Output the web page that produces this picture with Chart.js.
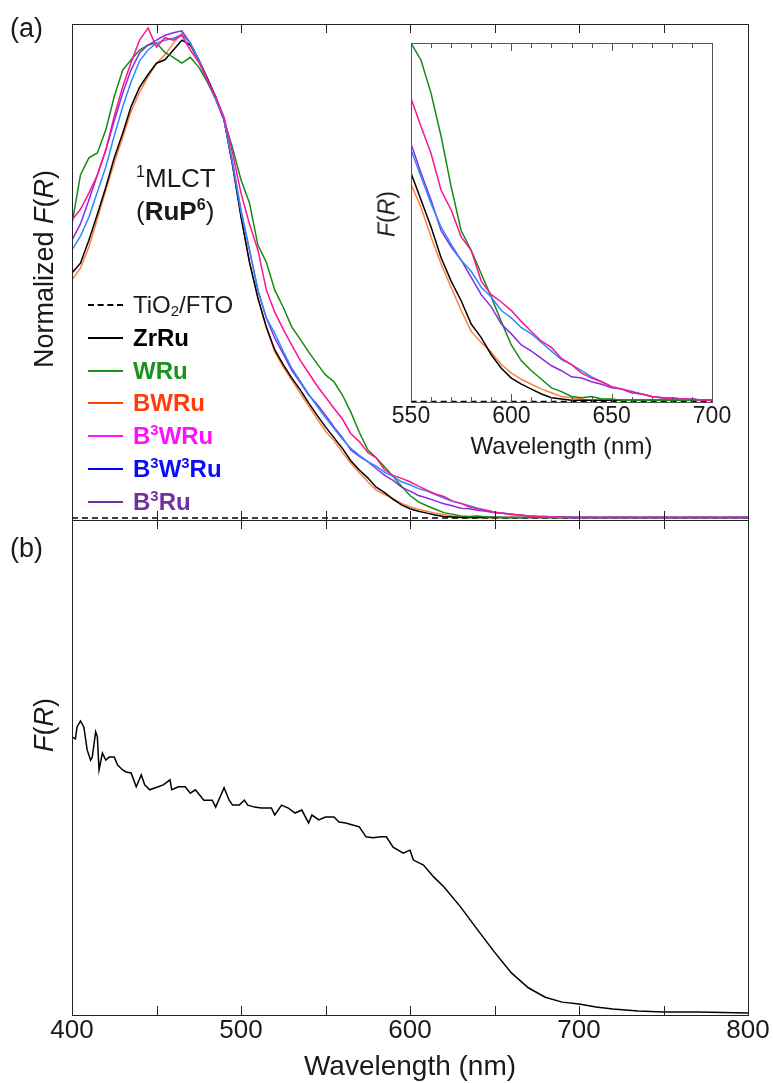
<!DOCTYPE html>
<html>
<head>
<meta charset="utf-8">
<title>Diffuse reflectance F(R) spectra</title>
<script src="https://cdn.jsdelivr.net/npm/chart.js@4.4.1/dist/chart.umd.min.js"></script>
<style>
  html, body { margin: 0; padding: 0; background: #fff; }
  #figure {
    position: relative; width: 773px; height: 1083px; overflow: hidden;
    font-family: "Liberation Sans", Arial, sans-serif; color: #1a1a1a;
  }
  canvas { position: absolute; }
  .txt { position: absolute; white-space: nowrap; line-height: 1; }
  .rot { transform: translate(-50%, -50%) rotate(-90deg); }
  sup, sub { font-size: 0.62em; line-height: 0; }
  sup { vertical-align: 0.62em; }
  sub { vertical-align: -0.22em; }
  .leg-row { position: absolute; left: 88px; height: 24px; white-space: nowrap; font-size: 24px; line-height: 24px; }
  .leg-line { position: absolute; left: 0; top: 11px; width: 35px; height: 0; border-top: 2px solid #000; }
  .leg-text { position: absolute; left: 45px; top: 0; }
</style>
</head>
<body>
<div id="figure">
  <canvas id="panelA" width="773" height="540" style="left:0;top:0"></canvas>
  <canvas id="panelB" width="773" height="583" style="left:0;top:500px"></canvas>
  <canvas id="inset" width="360" height="430" style="left:380px;top:30px"></canvas>

  <div class="txt" style="left:10px;top:15px;font-size:27px">(a)</div>
  <div class="txt" style="left:10px;top:535px;font-size:27px">(b)</div>
  <div class="txt" style="left:136px;top:165px;font-size:26px"><sup>1</sup>MLCT</div>
  <div class="txt" style="left:136px;top:198px;font-size:26px">(<b>RuP<sup>6</sup></b>)</div>
  <div class="txt rot" style="left:44px;top:269px;font-size:27px">Normalized <i>F</i>(<i>R</i>)</div>
  <div class="txt rot" style="left:44px;top:725px;font-size:27px"><i>F</i>(<i>R</i>)</div>
  <div class="txt rot" style="left:387px;top:214px;font-size:23px"><i>F</i>(<i>R</i>)</div>
  <div id="legend"></div>
</div>

<script>
/* ---- Data ---- */

// Panel (a): normalized F(R), shared wavelength grid (nm)
const wavelengths = [
  400, 405, 410, 415, 420, 425, 430, 435, 440, 445,
  450, 455, 460, 465, 470, 475, 480, 485, 490, 495,
  500, 505, 510, 515, 520, 525, 530, 535, 540, 545,
  550, 555, 560, 565, 570, 575, 580, 585, 590, 595,
  600, 605, 610, 615, 620, 625, 630, 635, 640, 645,
  650, 655, 660, 665, 670, 675, 680, 685, 690, 695,
  700, 750, 800,
];

const zrRu = [
  0.500, 0.520, 0.567, 0.620, 0.675, 0.735, 0.785, 0.840, 0.879, 0.905,
  0.928, 0.935, 0.955, 0.975, 0.965, 0.935, 0.898, 0.860, 0.812, 0.720,
  0.614, 0.522, 0.449, 0.390, 0.343, 0.313, 0.286, 0.262, 0.235, 0.210,
  0.186, 0.164, 0.142, 0.117, 0.098, 0.082, 0.063, 0.052, 0.038, 0.027,
  0.019, 0.014, 0.010, 0.006, 0.003, 0.002, 0.001, 0.001, 0.001, 0.001,
  0.001, 0.001, 0.001, 0.001, 0.001, 0.001, 0.001, 0.001, 0.001, 0.001,
  0.001, 0.001, 0.001,
];

const wRu = [
  0.600, 0.700, 0.735, 0.745, 0.792, 0.860, 0.914, 0.935, 0.955, 0.965,
  0.969, 0.950, 0.940, 0.928, 0.940, 0.920, 0.890, 0.855, 0.812, 0.755,
  0.690, 0.643, 0.557, 0.522, 0.465, 0.430, 0.390, 0.365, 0.339, 0.315,
  0.292, 0.278, 0.251, 0.216, 0.175, 0.139, 0.123, 0.104, 0.085, 0.065,
  0.046, 0.033, 0.025, 0.018, 0.011, 0.008, 0.004, 0.003, 0.004, 0.002,
  0.002, 0.001, 0.001, 0.001, 0.001, 0.001, 0.001, 0.001, 0.001, 0.001,
  0.001, 0.001, 0.001,
];

const bwRu = [
  0.486, 0.510, 0.553, 0.610, 0.669, 0.725, 0.777, 0.830, 0.869, 0.900,
  0.928, 0.945, 0.969, 0.990, 0.969, 0.935, 0.894, 0.855, 0.812, 0.720,
  0.618, 0.522, 0.449, 0.388, 0.339, 0.308, 0.282, 0.255, 0.229, 0.203,
  0.177, 0.158, 0.134, 0.112, 0.093, 0.074, 0.057, 0.048, 0.040, 0.030,
  0.023, 0.018, 0.014, 0.010, 0.007, 0.004, 0.003, 0.002, 0.001, 0.001,
  0.001, 0.001, 0.001, 0.001, 0.001, 0.001, 0.001, 0.001, 0.001, 0.001,
  0.001, 0.001, 0.001,
];

const b3wRu = [
  0.608, 0.630, 0.663, 0.700, 0.751, 0.820, 0.880, 0.930, 0.975, 1.000,
  0.961, 0.980, 0.975, 0.985, 0.955, 0.930, 0.894, 0.860, 0.818, 0.745,
  0.663, 0.600, 0.547, 0.465, 0.420, 0.385, 0.353, 0.322, 0.296, 0.270,
  0.247, 0.224, 0.202, 0.172, 0.156, 0.134, 0.123, 0.098, 0.087, 0.081,
  0.074, 0.065, 0.057, 0.049, 0.044, 0.035, 0.030, 0.023, 0.019, 0.016,
  0.012, 0.010, 0.007, 0.006, 0.004, 0.003, 0.002, 0.002, 0.002, 0.001,
  0.001, 0.001, 0.001,
];

const b3w3Ru = [
  0.547, 0.575, 0.614, 0.665, 0.716, 0.780, 0.839, 0.890, 0.933, 0.955,
  0.969, 0.975, 0.979, 0.986, 0.969, 0.935, 0.894, 0.855, 0.812, 0.725,
  0.624, 0.547, 0.465, 0.408, 0.377, 0.340, 0.306, 0.280, 0.253, 0.228,
  0.205, 0.183, 0.161, 0.142, 0.128, 0.115, 0.106, 0.093, 0.085, 0.074,
  0.068, 0.060, 0.055, 0.048, 0.041, 0.034, 0.030, 0.025, 0.020, 0.016,
  0.012, 0.010, 0.007, 0.006, 0.004, 0.003, 0.003, 0.002, 0.002, 0.001,
  0.001, 0.001, 0.001,
];

const b3Ru = [
  0.567, 0.600, 0.649, 0.700, 0.751, 0.810, 0.867, 0.915, 0.949, 0.965,
  0.975, 0.985, 0.990, 0.994, 0.969, 0.935, 0.894, 0.855, 0.812, 0.725,
  0.628, 0.547, 0.465, 0.408, 0.367, 0.335, 0.302, 0.277, 0.251, 0.232,
  0.210, 0.186, 0.164, 0.139, 0.126, 0.115, 0.101, 0.087, 0.077, 0.063,
  0.055, 0.046, 0.041, 0.035, 0.029, 0.025, 0.020, 0.019, 0.016, 0.014,
  0.011, 0.010, 0.008, 0.006, 0.004, 0.003, 0.003, 0.002, 0.002, 0.001,
  0.001, 0.001, 0.001,
];

// Bare TiO2/FTO film (dashed baseline)
const tio2Wavelengths = [400, 500, 600, 700, 800];
const tio2Values = [0.0, 0.0, 0.0, 0.0, 0.0];

// Panel (b): F(R), single spectrum
const bWavelengths = [
  400, 402, 403, 405, 407, 409, 411, 412, 414, 415,
  416, 418, 420, 422, 425, 427, 430, 432, 435, 438,
  441, 443, 446, 451, 454, 458, 459, 463, 467, 470,
  473, 478, 483, 485, 490, 493, 495, 499, 502, 504,
  508, 512, 518, 520, 524, 528, 532, 536, 540, 542,
  546, 550, 555, 558, 562, 566, 570, 574, 578, 583,
  586, 590, 596, 600, 602, 608, 614, 620, 630, 640,
  650, 660, 670, 680, 690, 700, 710, 720, 735, 750,
  770, 800,
];
const bValues = [
  0.562, 0.558, 0.582, 0.594, 0.582, 0.535, 0.515, 0.521, 0.572, 0.562,
  0.495, 0.529, 0.515, 0.521, 0.521, 0.505, 0.495, 0.491, 0.489, 0.461,
  0.485, 0.465, 0.455, 0.461, 0.465, 0.475, 0.455, 0.461, 0.461, 0.448,
  0.455, 0.434, 0.434, 0.420, 0.459, 0.434, 0.424, 0.424, 0.434, 0.424,
  0.420, 0.418, 0.418, 0.404, 0.424, 0.418, 0.408, 0.414, 0.388, 0.404,
  0.394, 0.400, 0.400, 0.390, 0.388, 0.384, 0.380, 0.360, 0.358, 0.360,
  0.360, 0.339, 0.327, 0.333, 0.313, 0.303, 0.279, 0.259, 0.218, 0.172,
  0.127, 0.085, 0.055, 0.036, 0.026, 0.022, 0.016, 0.012, 0.008, 0.006,
  0.006, 0.004,
];

// Legend entries (top to bottom)
const legendLabels = [
  "TiO<sub>2</sub>/FTO", "ZrRu", "WRu", "BWRu",
  "B<sup>3</sup>WRu", "B<sup>3</sup>W<sup>3</sup>Ru", "B<sup>3</sup>Ru",
];
const legendTextColors = ["#1a1a1a", "#000", "#1a931a", "#ff3c0a", "#ff10ff", "#0a0aff", "#7030a0"];
const legendLineColors = ["#000", "#000", "#1a931a", "#ff4500", "#ff10ff", "#0000ff", "#7030a0"];

/* ---- Helpers ---- */

const FONT = "'Liberation Sans', Arial, sans-serif";
Chart.defaults.font.family = FONT;

const toPoints = (xs, ys) => xs.map((x, i) => ({ x, y: ys[i] }));

const lineStyle = (color, order) => ({
  borderColor: color,
  backgroundColor: color,
  borderWidth: 1.5,
  pointRadius: 0,
  fill: false,
  tension: 0,
  order,
});

// dataset order: lower "order" is drawn on top
const makePanelASets = () => [
  { label: "TiO2/FTO", data: toPoints(tio2Wavelengths, tio2Values), ...lineStyle("#000", 7), borderDash: [6, 4] },
  { label: "BWRu", data: toPoints(wavelengths, bwRu), ...lineStyle("#ff8040", 6) },
  { label: "ZrRu", data: toPoints(wavelengths, zrRu), ...lineStyle("#000000", 5) },
  { label: "WRu", data: toPoints(wavelengths, wRu), ...lineStyle("#158a15", 4) },
  { label: "B3Ru", data: toPoints(wavelengths, b3Ru), ...lineStyle("#8a2be2", 3) },
  { label: "B3W3Ru", data: toPoints(wavelengths, b3w3Ru), ...lineStyle("#2a8cff", 2) },
  { label: "B3WRu", data: toPoints(wavelengths, b3wRu), ...lineStyle("#ff1490", 1) },
];

/** Frame box plus inward tick marks on top and bottom edges. */
const frameTicks = {
  id: "frameTicks",
  beforeDatasetsDraw(chart, args, opts) {
    if (!opts.fill) return;
    const { ctx, chartArea: a } = chart;
    ctx.save();
    ctx.fillStyle = opts.fill;
    ctx.fillRect(a.left, a.top, a.right - a.left, a.bottom - a.top);
    ctx.restore();
  },
  afterDatasetsDraw(chart, args, opts) {
    const { ctx, chartArea: a } = chart;
    const x = chart.scales.x;
    ctx.save();
    ctx.strokeStyle = opts.color;
    ctx.lineWidth = 1;
    ctx.beginPath();
    for (let v = x.min + opts.step; v < x.max; v += opts.step) {
      const px = Math.round(x.getPixelForValue(v)) + 0.5;
      const len = opts.majorStep && v % opts.majorStep === 0 ? opts.majorLen : opts.len;
      ctx.moveTo(px, a.top);
      ctx.lineTo(px, a.top + len);
      ctx.moveTo(px, a.bottom);
      ctx.lineTo(px, a.bottom - len);
    }
    ctx.stroke();
    ctx.strokeRect(Math.round(a.left) + 0.5, Math.round(a.top) + 0.5,
      Math.round(a.right - a.left), Math.round(a.bottom - a.top));
    ctx.restore();
  },
};

const baseOptions = {
  responsive: false,
  animation: false,
  events: [],
  plugins: { legend: { display: false }, tooltip: { enabled: false } },
};

/* ---- Panel (a) ---- */

new Chart(document.getElementById("panelA"), {
  type: "line",
  data: { datasets: makePanelASets() },
  options: {
    ...baseOptions,
    layout: { padding: { left: 72, right: 25, top: 24, bottom: 20 } },
    scales: {
      x: { type: "linear", min: 400, max: 800, display: false },
      y: { type: "linear", min: -0.004, max: 1.008, display: false },
    },
    plugins: {
      ...baseOptions.plugins,
      frameTicks: { step: 50, len: 9, color: "#222" },
    },
  },
  plugins: [frameTicks],
});

/* ---- Panel (b) ---- */

new Chart(document.getElementById("panelB"), {
  type: "line",
  data: {
    datasets: [
      { label: "F(R)", data: toPoints(bWavelengths, bValues), ...lineStyle("#000", 0) },
    ],
  },
  options: {
    ...baseOptions,
    layout: { padding: { left: 72, right: 25, top: 20, bottom: 2 } },
    scales: {
      x: {
        type: "linear", min: 400, max: 800,
        ticks: { stepSize: 100, color: "#1a1a1a", padding: 3, font: { size: 26, lineHeight: 1 } },
        grid: { display: false, drawTicks: false },
        border: { display: false },
        title: {
          display: true, text: "Wavelength (nm)", color: "#1a1a1a",
          font: { size: 28, lineHeight: 1 }, padding: { top: 6, bottom: 0 },
        },
      },
      y: { type: "linear", min: 0, max: 1, display: false },
    },
    plugins: {
      ...baseOptions.plugins,
      frameTicks: { step: 50, len: 9, color: "#222" },
    },
  },
  plugins: [frameTicks],
});

/* ---- Inset (zoom of panel a, 550-700 nm) ---- */

new Chart(document.getElementById("inset"), {
  type: "line",
  data: { datasets: makePanelASets() },
  options: {
    ...baseOptions,
    layout: { padding: { left: 31, right: 28, top: 13, bottom: 1 } },
    scales: {
      x: {
        type: "linear", min: 550, max: 700,
        ticks: { stepSize: 50, color: "#1a1a1a", padding: 3, font: { size: 23, lineHeight: 1 } },
        grid: { display: false, drawTicks: false },
        border: { display: false },
        title: {
          display: true, text: "Wavelength (nm)", color: "#1a1a1a",
          font: { size: 24, lineHeight: 1 }, padding: { top: 4, bottom: 0 },
        },
      },
      y: { type: "linear", min: -0.0005, max: 0.292, display: false },
    },
    plugins: {
      ...baseOptions.plugins,
      frameTicks: { step: 10, len: 5, majorStep: 50, majorLen: 8, color: "#555", fill: "#fff" },
    },
  },
  plugins: [frameTicks],
});

/* ---- Legend (HTML, so sub/superscripts and bold render as text) ---- */

const legend = document.getElementById("legend");
legendLabels.forEach((label, i) => {
  const row = document.createElement("div");
  row.className = "leg-row";
  row.style.top = 293 + i * 32.8 + "px";
  const line = document.createElement("span");
  line.className = "leg-line";
  line.style.borderTop = (i === 0 ? "2px dashed " : "2px solid ") + legendLineColors[i];
  const text = document.createElement("span");
  text.className = "leg-text";
  text.style.color = legendTextColors[i];
  text.style.fontWeight = i === 0 ? "normal" : "bold";
  text.innerHTML = label;
  row.append(line, text);
  legend.appendChild(row);
});
</script>
</body>
</html>
